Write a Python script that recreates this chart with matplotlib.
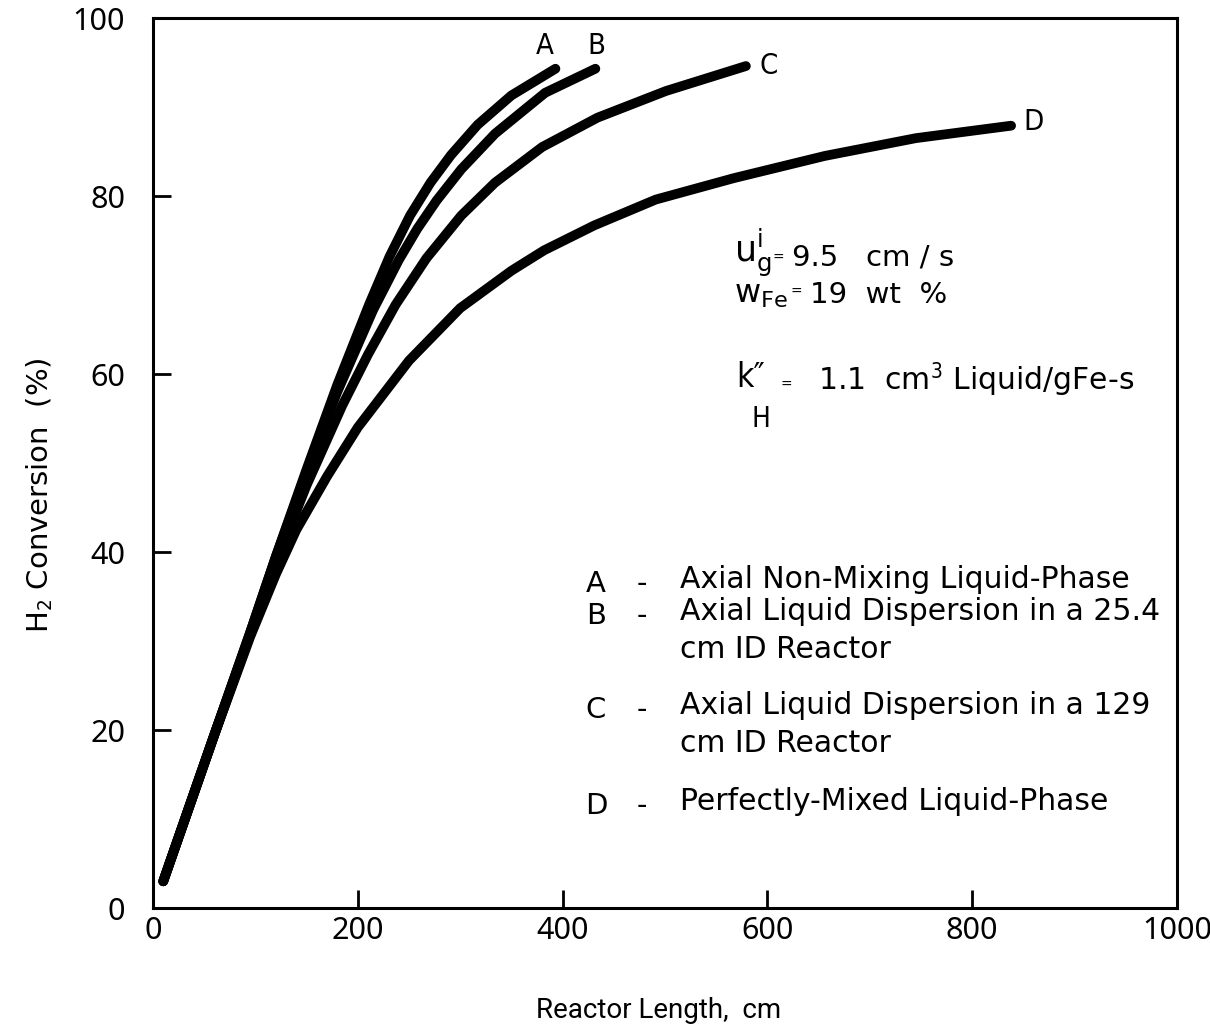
import matplotlib
matplotlib.use("Agg")
import matplotlib.pyplot as plt

plt.rcParams["mathtext.fontset"] = "custom"
plt.rcParams["mathtext.rm"] = "DejaVu Sans:stretch=condensed"

# reactor length (cm) vs H2 conversion (%)
len_a = [10, 60, 95, 120, 150, 180, 211, 231, 251, 271, 291, 317, 350, 393]
conv_a = [3, 19.5, 31, 39.5, 49.3, 58.8, 67.8, 73.2, 77.8, 81.5, 84.6, 88, 91.3, 94.3]

len_b = [10, 60, 95, 120, 150, 180, 215, 240, 258, 277, 301, 334, 383, 432]
conv_b = [3, 19.5, 31, 39.5, 49, 58, 67.2, 72.8, 76.3, 79.5, 83, 87, 91.6, 94.3]

len_c = [10, 60, 95, 120, 150, 185, 210, 237, 267, 301, 334, 380, 434, 501, 579]
conv_c = [3, 19.5, 30.8, 38.8, 47.5, 56.5, 62.2, 67.8, 73, 77.8, 81.5, 85.5, 88.8, 91.8, 94.6]

len_d = [10, 60, 95, 120, 140, 170, 200, 250, 300, 350, 382, 431, 491, 567, 656, 745, 838]
conv_d = [3, 19.5, 30.5, 37.5, 42.5, 48.5, 54, 61.5, 67.4, 71.6, 73.9, 76.7, 79.6, 82.0,
          84.5, 86.5, 87.9]

curve_tags = ["A", "B", "C", "D"]
tag_pos = [(383, 96.8), (433, 96.8), (601, 94.6), (860, 88.3)]

x_ticks = [0, 200, 400, 600, 800, 1000]
y_ticks = [0, 20, 40, 60, 80, 100]

legend_rows = [
    ("A", ["Axial Non-Mixing Liquid-Phase"]),
    ("B", ["Axial Liquid Dispersion in a 25.4", "cm ID Reactor"]),
    ("C", ["Axial Liquid Dispersion in a 129", "cm ID Reactor"]),
    ("D", ["Perfectly-Mixed Liquid-Phase"]),
]

W, H = 1210, 1030
plain = ["DejaVu Sans"]
cond = dict(family="DejaVu Sans", stretch="condensed")
digits = dict(family="Noto Sans", stretch="condensed")

fig = plt.figure(figsize=(W / 100, H / 100), dpi=100)
ax = fig.add_axes([153 / W, 1 - 908 / H, (1177 - 153) / W, (908 - 18) / H])


def px(x, y):
    # pixel position of the reference -> figure fraction
    return x / W, 1 - y / H


for xs, ys in [(len_a, conv_a), (len_b, conv_b), (len_c, conv_c), (len_d, conv_d)]:
    ax.plot(xs, ys, color="black", lw=7, solid_capstyle="round", solid_joinstyle="round")

for tag, (tx, ty) in zip(curve_tags, tag_pos):
    ax.text(tx, ty, tag, fontsize=21, ha="center", va="center", **cond)

ax.set_xlim(0, 1000)
ax.set_ylim(0, 100)
ax.set_xticks(x_ticks)
ax.set_yticks(y_ticks)
ax.set_xticklabels([str(v) for v in x_ticks], fontsize=22, **digits)
ax.set_yticklabels([str(v) for v in y_ticks], fontsize=22, **digits)
ax.tick_params(direction="in", length=13, width=2, pad=6)
ax.tick_params(axis="y", pad=20)
for s in ax.spines.values():
    s.set_linewidth(2.2)

fig.text(*px(40, 495), "H$_2$ Conversion  (%)", rotation=90, fontsize=21,
         family=plain, ha="center", va="center")
fig.text(*px(659, 1010), "Reactor Length,  cm", fontsize=20, family="Roboto",
         stretch="condensed", ha="center", va="center")

# operating conditions
fig.text(*px(734, 262), r"$\mathregular{u_g^i}$", fontsize=25, ha="left", va="baseline")
fig.text(*px(778, 258), "=", fontsize=10, ha="center", va="center")
fig.text(*px(792, 265), "9.5   cm / s", fontsize=21, family=plain, ha="left", va="baseline")

fig.text(*px(734, 303), r"$\mathregular{w_{Fe}}$", fontsize=23, ha="left", va="baseline")
fig.text(*px(796, 292), "=", fontsize=10, ha="center", va="center")
fig.text(*px(810, 303), "19  wt  %", fontsize=21, family=plain, ha="left", va="baseline")

fig.text(*px(736, 387), "k\u2033", fontsize=24, ha="left", va="baseline", **cond)
fig.text(*px(751, 427), "H", fontsize=20, ha="left", va="baseline", **cond)
fig.text(*px(786, 385), "=", fontsize=10, ha="center", va="center")
fig.text(*px(818, 390), r"1.1  cm$^3$ Liquid/gFe-s", fontsize=21.5, family=plain,
         ha="left", va="baseline")

row_y = [580, 612, 706, 802]
for (tag, lines), yy in zip(legend_rows, row_y):
    fig.text(*px(596, yy + 4), tag, fontsize=21, family=plain, ha="center", va="center")
    fig.text(*px(642, yy + 4), "-", fontsize=21, family=plain, ha="center", va="center")
    for i, line in enumerate(lines):
        fig.text(*px(680, yy + 37 * i), line, fontsize=21.5, family=plain,
                 ha="left", va="center")

fig.savefig("out.png", dpi=100, facecolor="white")
